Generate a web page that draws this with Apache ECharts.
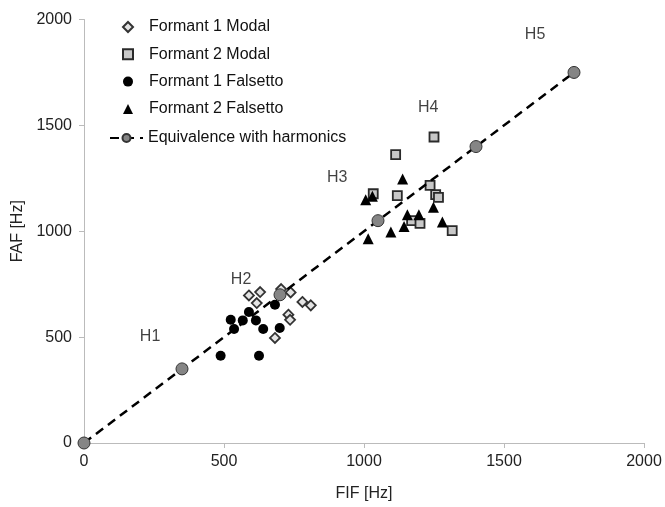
<!DOCTYPE html>
<html>
<head>
<meta charset="utf-8">
<script src="https://cdn.jsdelivr.net/npm/echarts@6/dist/echarts.min.js"></script>
<style>
html,body{margin:0;padding:0;background:#fff;}
#chart{width:665px;height:507px;}
</style>
</head>
<body>
<div id="chart"></div>
<script>
// Formant 1 Modal
const f1ModalX = [589, 629, 617, 704, 738, 780, 810, 730, 736, 682];
const f1ModalY = [697, 713, 661, 727, 711, 666, 650, 606, 582, 496];
// Formant 2 Modal
const f2ModalX = [1250, 1113, 1033, 1119, 1236, 1256, 1266, 1170, 1200, 1315];
const f2ModalY = [1445, 1362, 1177, 1168, 1217, 1173, 1160, 1050, 1037, 1003];
// Formant 1 Falsetto
const f1FalsX = [589, 524, 567, 614, 536, 640, 699, 682, 488, 625];
const f1FalsY = [619, 582, 579, 579, 538, 538, 543, 653, 412, 412];
// Formant 2 Falsetto
const f2FalsX = [1138, 1006, 1030, 1155, 1196, 1248, 1143, 1096, 1015, 1280];
const f2FalsY = [1247, 1149, 1165, 1078, 1078, 1113, 1023, 996, 965, 1044];
// Equivalence with harmonics
const harmX = [0, 350, 700, 1050, 1400, 1750];
const harmY = [0, 350, 700, 1050, 1400, 1750];
// Harmonic annotations
const hLabels = ['H1', 'H2', 'H3', 'H4', 'H5'];
const hLabelX = [236, 561, 904, 1229, 1611];
const hLabelY = [502, 771, 1253, 1584, 1929];
// Axis ticks
const axisMin = 0, axisMax = 2000, axisStep = 500;

const seriesNames = ['Formant 1 Modal', 'Formant 2 Modal', 'Formant 1 Falsetto', 'Formant 2 Falsetto', 'Equivalence with harmonics'];

function zip(xs, ys) { return xs.map((x, i) => [x, ys[i]]); }

const font = 'Liberation Sans, Arial, sans-serif';
const legendText = {fontSize: 16, color: '#111', fontFamily: font};
const chart = echarts.init(document.getElementById('chart'), null, {renderer: 'canvas'});
chart.setOption({
  backgroundColor: '#fff',
  animation: false,
  textStyle: {fontFamily: font},
  grid: {left: 84, right: 21, top: 19.5, bottom: 64, containLabel: false},
  legend: [
    {
      data: seriesNames.slice(0, 4),
      orient: 'vertical',
      left: 117, top: 14,
      itemWidth: 10, itemHeight: 10, itemGap: 11.3,
      textStyle: Object.assign({padding: [0, 0, 0, 11]}, legendText),
      inactiveColor: '#ccc'
    },
    {
      data: seriesNames.slice(4),
      orient: 'vertical',
      left: 104, top: 125,
      itemWidth: 33, itemHeight: 10,
      textStyle: Object.assign({padding: [0, 0, 0, 0]}, legendText),
      inactiveColor: '#ccc'
    }
  ],
  xAxis: {
    type: 'value', min: axisMin, max: axisMax, interval: axisStep,
    name: 'FIF [Hz]', nameLocation: 'middle', nameGap: 43,
    nameTextStyle: {fontSize: 16, color: '#222', fontFamily: font},
    axisLine: {show: true, lineStyle: {color: '#bbb', width: 1}},
    axisTick: {show: true, length: 5, lineStyle: {color: '#bbb'}},
    axisLabel: {fontSize: 16, color: '#222', margin: 11, fontFamily: font, formatter: v => String(v)},
    splitLine: {show: false}
  },
  yAxis: {
    type: 'value', min: axisMin, max: axisMax, interval: axisStep,
    name: 'FAF [Hz]', nameLocation: 'middle', nameGap: 55, nameRotate: 90,
    nameTextStyle: {fontSize: 16, color: '#222', fontFamily: font},
    axisLine: {show: true, lineStyle: {color: '#bbb', width: 1}},
    axisTick: {show: true, length: 5, lineStyle: {color: '#bbb'}},
    axisLabel: {fontSize: 16, color: '#222', margin: 12, fontFamily: font, formatter: v => String(v)},
    splitLine: {show: false}
  },
  series: [
    {
      name: seriesNames[0], type: 'scatter', symbol: 'diamond', symbolSize: 10,
      data: zip(f1ModalX, f1ModalY),
      itemStyle: {color: '#e4e4e4', borderColor: '#333', borderWidth: 1.8, opacity: 1}
    },
    {
      name: seriesNames[1], type: 'scatter', symbol: 'rect', symbolSize: 9,
      data: zip(f2ModalX, f2ModalY),
      itemStyle: {color: '#c8c8c8', borderColor: '#2a2a2a', borderWidth: 1.8, opacity: 1}
    },
    {
      name: seriesNames[2], type: 'scatter', symbol: 'circle', symbolSize: 10,
      data: zip(f1FalsX, f1FalsY),
      itemStyle: {color: '#000', borderWidth: 0, opacity: 1}
    },
    {
      name: seriesNames[3], type: 'scatter', symbol: 'triangle', symbolSize: 11,
      data: zip(f2FalsX, f2FalsY),
      itemStyle: {color: '#000', opacity: 1}
    },
    {
      name: seriesNames[4], type: 'line', symbol: 'circle', symbolSize: 12, showSymbol: true,
      data: zip(harmX, harmY),
      lineStyle: {color: '#000', width: 2.5, type: [9, 6]},
      itemStyle: {color: '#858585', borderColor: '#333', borderWidth: 1}
    },
    {
      name: 'labels', type: 'scatter', symbolSize: 0, silent: true,
      data: hLabels.map((t, i) => ({name: t, value: [hLabelX[i], hLabelY[i]]})),
      label: {show: true, position: 'inside', formatter: p => p.name, fontSize: 16, color: '#111', fontFamily: font},
      itemStyle: {color: 'transparent'}
    }
  ]
});
</script>
</body>
</html>
